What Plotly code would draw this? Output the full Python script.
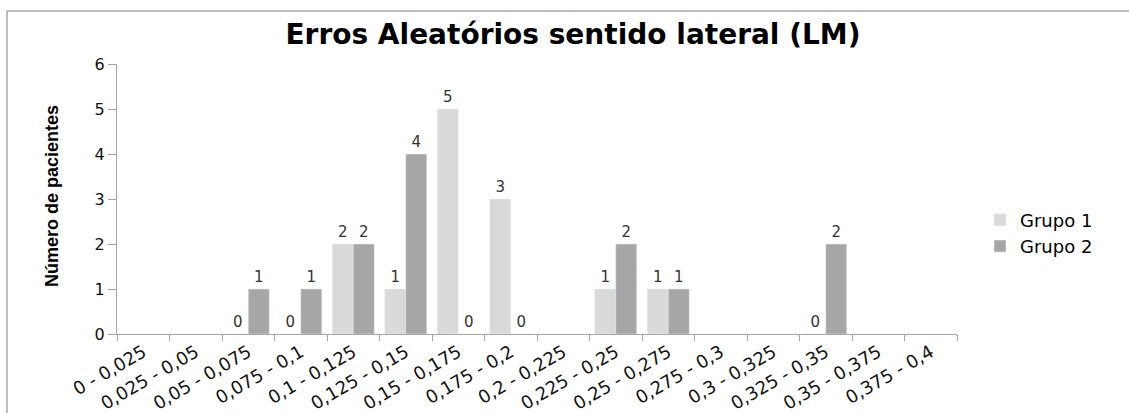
import plotly.graph_objects as go

# Faixas de erro (intervalos) no eixo X
faixas = ["0 - 0,025", "0,025 - 0,05", "0,05 - 0,075", "0,075 - 0,1",
          "0,1 - 0,125", "0,125 - 0,15", "0,15 - 0,175", "0,175 - 0,2",
          "0,2 - 0,225", "0,225 - 0,25", "0,25 - 0,275", "0,275 - 0,3",
          "0,3 - 0,325", "0,325 - 0,35", "0,35 - 0,375", "0,375 - 0,4"]

# Número de pacientes por faixa (None = sem registro)
grupo1 = [None, None, 0, 0, 2, 1, 5, 3, None, 1, 1, None, None, 0, None, None]
grupo2 = [None, None, 1, 1, 2, 4, 0, 0, None, 2, 1, None, None, 2, None, None]

W, H = 1129, 413
L, R, T, B = 117, 172, 64, 79
pw, ph = W - L - R, H - T - B

lab_font = dict(family="DejaVu Sans", size=15, color="#333333")

fig = go.Figure()
fig.add_trace(go.Bar(name="Grupo 1", x=faixas, y=grupo1, marker_color="#d9d9d9",
                     text=grupo1, texttemplate="%{y}", textposition="outside",
                     textfont=lab_font, cliponaxis=False))
fig.add_trace(go.Bar(name="Grupo 2", x=faixas, y=grupo2, marker_color="#a6a6a6",
                     text=grupo2, texttemplate="%{y}", textposition="outside",
                     textfont=lab_font, cliponaxis=False))

fig.update_layout(
    width=W, height=H,
    margin=dict(l=L, r=R, t=T, b=B, autoexpand=False),
    paper_bgcolor="white", plot_bgcolor="white",
    barmode="group", bargap=0.2, bargroupgap=0,
    title=dict(text="<b>Erros Aleatórios sentido lateral (LM)</b>",
               x=573 / W, xanchor="center", xref="container",
               y=1 - 34 / H, yanchor="middle", yref="container",
               font=dict(family="DejaVu Sans", size=28, color="#000000")),
    legend=dict(x=(980 - L) / pw, xanchor="left",
                y=(H - B - 233) / ph, yanchor="middle",
                font=dict(family="DejaVu Sans", size=18, color="#000000"),
                itemwidth=30, tracegroupgap=0, bgcolor="rgba(0,0,0,0)"),
    showlegend=True,
)

fig.update_xaxes(type="category", tickangle=-30, tickson="boundaries",
                 ticks="outside", ticklen=6, tickcolor="#a6a6a6",
                 showline=True, linecolor="#a6a6a6", linewidth=1,
                 showgrid=False, automargin=False,
                 tickfont=dict(family="DejaVu Sans", size=18, color="#111111"))
fig.update_yaxes(range=[0, 6], dtick=1, ticks="outside", ticklen=8,
                 tickcolor="#a6a6a6", showline=True, linecolor="#a6a6a6",
                 linewidth=1, showgrid=False, zeroline=False, automargin=False,
                 tickfont=dict(family="DejaVu Sans", size=16, color="#111111"))

# Título do eixo Y
fig.add_annotation(text="<b>Número de pacientes</b>", textangle=-90,
                   xref="paper", yref="paper",
                   x=(52 - L) / pw, y=(H - B - 196) / ph,
                   showarrow=False, xanchor="center", yanchor="middle",
                   font=dict(family="Liberation Sans Narrow, Arial", size=18,
                             color="#000000"))

# Moldura do gráfico (bordas superior e esquerda)
x0 = (7 - L) / pw
y_top = (H - B - 11) / ph
fig.add_shape(type="line", xref="paper", yref="paper",
              x0=x0, x1=(W - L) / pw, y0=y_top, y1=y_top,
              line=dict(color="#a6a6a6", width=1.5))
fig.add_shape(type="line", xref="paper", yref="paper",
              x0=x0, x1=x0, y0=y_top, y1=-B / ph,
              line=dict(color="#a6a6a6", width=1.5))

fig.write_html("out.html")
